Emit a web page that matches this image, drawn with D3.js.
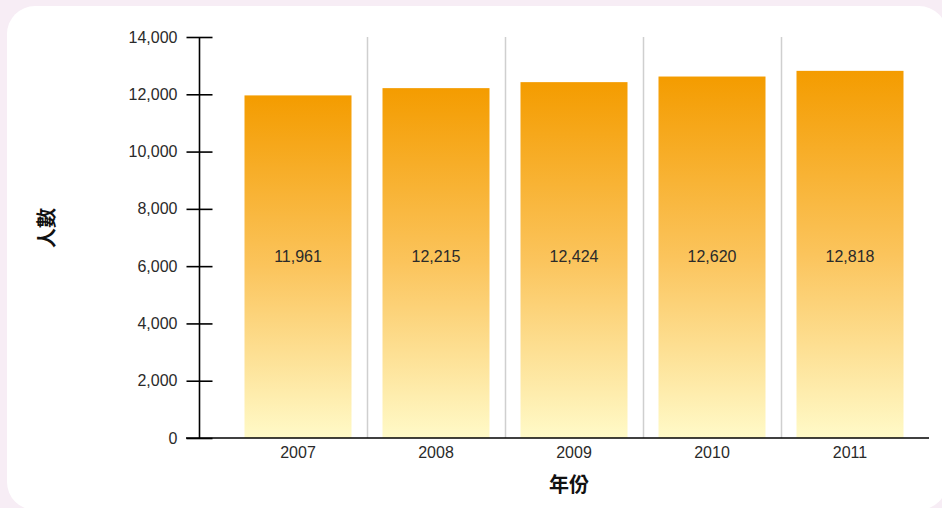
<!DOCTYPE html>
<html lang="zh-Hant">
  <head>
    <meta charset="utf-8" />
    <title>人數 by 年份</title>
    <script src="https://cdn.jsdelivr.net/npm/d3@7"></script>
    <style type="text/css">
      html, body { margin: 0; padding: 0; background: #f7edf5; }
      svg { display: block; }
      .tick text { font-family: "Liberation Sans", Arial, sans-serif; font-size: 16px; fill: #2a2a2a; }
      .axis-title { font-family: "Noto Sans CJK TC", sans-serif; font-size: 20px; font-weight: bold; fill: #111; }
      .bar-label { font-family: "Liberation Sans", Arial, sans-serif; font-size: 16px; fill: #2a2a2a; }
    </style>
  </head>
  <body>
    <div id="chart"></div>
    <script type="text/javascript">
      /*******************************************
       * data
       *******************************************/
      const years = ["2007", "2008", "2009", "2010", "2011"];
      const people = [11961, 12215, 12424, 12620, 12818];
      const yTicks = [0, 2000, 4000, 6000, 8000, 10000, 12000, 14000];

      /*******************************************
       * svg
       *******************************************/
      const width = 942;
      const height = 508;
      const margin = { top: 37, left: 229 };

      const svg = d3.select("div#chart").append("svg")
        .attr("width", width)
        .attr("height", height);

      // white rounded panel
      svg.append("rect")
        .attr("x", 7).attr("y", 6)
        .attr("width", 940).attr("height", 504)
        .attr("rx", 28).attr("ry", 28)
        .attr("fill", "#ffffff");

      // gradient
      const grad = svg.append("defs").append("linearGradient")
        .attr("id", "barGrad")
        .attr("x1", 0).attr("y1", 0).attr("x2", 0).attr("y2", 1);
      grad.append("stop").attr("offset", "0%").attr("stop-color", "#f49c00");
      grad.append("stop").attr("offset", "50%").attr("stop-color", "#fbc45c");
      grad.append("stop").attr("offset", "100%").attr("stop-color", "#fffac8");

      /*******************************************
       * scales
       *******************************************/
      const xScale = d3.scaleBand()
        .domain(years)
        .range([margin.left, margin.left + 138 * years.length]);

      const yScale = d3.scaleLinear()
        .domain([0, 14000])
        .range([438, margin.top]);

      const barWidth = 107;

      /*******************************************
       * separators
       *******************************************/
      svg.append("g")
        .selectAll("line")
        .data(years.slice(1))
        .enter()
        .append("line")
        .attr("x1", (d) => xScale(d) + 0.5)
        .attr("x2", (d) => xScale(d) + 0.5)
        .attr("y1", yScale(14000))
        .attr("y2", yScale(0))
        .attr("stroke", "#cfcfcf")
        .attr("stroke-width", 1.5);

      /*******************************************
       * bars
       *******************************************/
      svg.append("g")
        .selectAll("rect")
        .data(years)
        .enter()
        .append("rect")
        .attr("x", (d) => xScale(d) + (xScale.bandwidth() - barWidth) / 2)
        .attr("width", barWidth)
        .attr("y", (d, i) => yScale(people[i]))
        .attr("height", (d, i) => yScale(0) - yScale(people[i]))
        .attr("fill", "url(#barGrad)");

      // value labels (all at the same height)
      const labelLevel = 6350;
      svg.append("g")
        .selectAll("text")
        .data(years)
        .enter()
        .append("text")
        .attr("class", "bar-label")
        .attr("x", (d) => xScale(d) + xScale.bandwidth() / 2)
        .attr("y", yScale(labelLevel))
        .attr("dy", "0.35em")
        .attr("text-anchor", "middle")
        .text((d, i) => d3.format(",")(people[i]));

      /*******************************************
       * axes
       *******************************************/
      const yAxis = d3.axisLeft(yScale)
        .tickValues(yTicks)
        .tickFormat(d3.format(","))
        .tickSize(13);

      const gy = svg.append("g")
        .attr("transform", "translate(199.5, 0)")
        .call(yAxis);
      gy.select(".domain").remove();
      gy.append("line")
        .attr("x1", 0).attr("x2", 0)
        .attr("y1", yScale(14000)).attr("y2", yScale(0))
        .attr("stroke", "#000").attr("stroke-width", 1.6);
      gy.selectAll(".tick line")
        .attr("x2", 13).attr("x1", -13)
        .attr("stroke", "#000").attr("stroke-width", 1.6);
      gy.selectAll(".tick text").attr("x", -22);

      const xAxis = d3.axisBottom(xScale).tickSize(0).tickPadding(9);
      const gx = svg.append("g")
        .attr("transform", `translate(0, ${yScale(0)})`)
        .call(xAxis);
      gx.select(".domain").remove();
      gx.append("line")
        .attr("x1", 186).attr("x2", 929)
        .attr("y1", 0).attr("y2", 0)
        .attr("stroke", "#000").attr("stroke-width", 1.6);

      /*******************************************
       * axis titles
       *******************************************/
      svg.append("text")
        .attr("class", "axis-title")
        .attr("text-anchor", "middle")
        .attr("transform", "translate(47, 228) rotate(-90)")
        .attr("dy", "0.35em")
        .text("人數");

      svg.append("text")
        .attr("class", "axis-title")
        .attr("text-anchor", "middle")
        .attr("x", 569)
        .attr("y", 485)
        .attr("dy", "0.35em")
        .text("年份");
    </script>
  </body>
</html>
